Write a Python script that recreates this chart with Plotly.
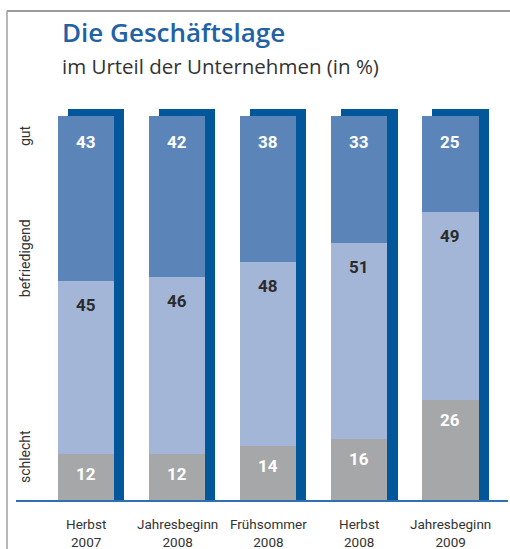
import plotly.graph_objects as go

categories = ["Herbst 2007", "Jahresbeginn 2008", "Frühsommer 2008", "Herbst 2008", "Jahresbeginn 2009"]
schlecht = [12, 12, 14, 16, 26]
befriedigend = [45, 46, 48, 51, 49]
gut = [43, 42, 38, 33, 25]
row_labels = ["gut", "befriedigend", "schlecht"]

x = list(range(len(categories)))
W = 0.62          # front bar width (axis units)
SH_DX = 0.11      # shadow offset to the right
SH_DY = 1.82      # shadow extra height on top

c_gut = "#5b85b9"
c_bef = "#a4b6d8"
c_sch = "#a6a7a9"
c_shadow = "#02579b"

base_bef = schlecht
base_gut = [s + b for s, b in zip(schlecht, befriedigend)]
totals = [s + b + g for s, b, g in zip(schlecht, befriedigend, gut)]

fig = go.Figure()
fig.add_trace(go.Bar(x=x, y=[t + SH_DY for t in totals], width=W, offset=-W / 2 + SH_DX,
                     marker=dict(color=c_shadow, line=dict(width=0)), hoverinfo="skip", showlegend=False))
fig.add_trace(go.Bar(x=x, y=schlecht, base=[0] * len(x), width=W, offset=-W / 2,
                     marker=dict(color=c_sch, line=dict(width=0)), name="schlecht", showlegend=False))
fig.add_trace(go.Bar(x=x, y=befriedigend, base=base_bef, width=W, offset=-W / 2,
                     marker=dict(color=c_bef, line=dict(width=0)), name="befriedigend", showlegend=False))
fig.add_trace(go.Bar(x=x, y=gut, base=base_gut, width=W, offset=-W / 2,
                     marker=dict(color=c_gut, line=dict(width=0)), name="gut", showlegend=False))

val_font = "Roboto"
lab_font = "Roboto"
ann = []
for i in x:
    ann.append(dict(x=i, y=totals[i], yref="y", xref="x", text=f"<b>{gut[i]}</b>", showarrow=False,
                    yanchor="middle", yshift=-26, font=dict(family=val_font, size=17, color="white")))
    ann.append(dict(x=i, y=base_gut[i], yref="y", xref="x", text=f"<b>{befriedigend[i]}</b>", showarrow=False,
                    yanchor="middle", yshift=-24, font=dict(family=val_font, size=17, color="#2b2b2b")))
    ann.append(dict(x=i, y=schlecht[i], yref="y", xref="x", text=f"<b>{schlecht[i]}</b>", showarrow=False,
                    yanchor="middle", yshift=-20, font=dict(family=val_font, size=17, color="white")))
    ann.append(dict(x=i, y=(500 - 533) / 400, yref="paper", xref="x",
                    text=categories[i].replace(" ", "<br>"), showarrow=False,
                    yanchor="middle", borderpad=0,
                    font=dict(family=lab_font, size=13.5, color="#333333")))

# rotated row labels
label_y = [94.8, 63.0, 11.2]
for t, yy in zip(row_labels, label_y):
    ann.append(dict(x=-0.668, y=yy, xref="x", yref="y", text=t, textangle=-90, showarrow=False,
                    font=dict(family=lab_font, size=14, color="#333333")))

ann.append(dict(x=(60 - 16) / 492, y=(500 - 32) / 400, xref="paper", yref="paper",
                xanchor="left", yanchor="middle", showarrow=False,
                text="Die Geschäftslage",
                font=dict(family="Open Sans", size=26, weight=600, color="#1f62a6")))
ann.append(dict(x=(60 - 16) / 492, y=(500 - 66) / 400, xref="paper", yref="paper",
                xanchor="left", yanchor="middle", showarrow=False,
                text="im Urteil der Unternehmen (in %)",
                font=dict(family="Open Sans", size=20.5, color="#333333")))

fig.update_layout(
    annotations=ann,
    width=510, height=549,
    margin=dict(l=16, r=2, t=100, b=49, autoexpand=False),
    paper_bgcolor="white", plot_bgcolor="white",
    barmode="overlay", bargap=0,
    xaxis=dict(range=[-0.768, 4.633], showgrid=False, zeroline=False, showticklabels=False,
               showline=True, linecolor="#2f6fb5", linewidth=1.5, fixedrange=True),
    yaxis=dict(range=[0, 104.1667], showgrid=False, zeroline=False, showticklabels=False,
               showline=False, fixedrange=True),
)

# frame lines
fig.add_shape(type="line", xref="paper", yref="paper", x0=(7 - 16) / 492, x1=(512 - 16) / 492,
              y0=(500 - 11) / 400, y1=(500 - 11) / 400, line=dict(color="#7a7a7a", width=1.5))
fig.add_shape(type="line", xref="paper", yref="paper", x0=(7 - 16) / 492, x1=(7 - 16) / 492,
              y0=(500 - 11) / 400, y1=(500 - 560) / 400, line=dict(color="#a0a0a0", width=1.5))

fig.write_html("out.html", config={"displayModeBar": False},
               post_script="document.body.style.margin='0';document.body.style.overflow='hidden';")
